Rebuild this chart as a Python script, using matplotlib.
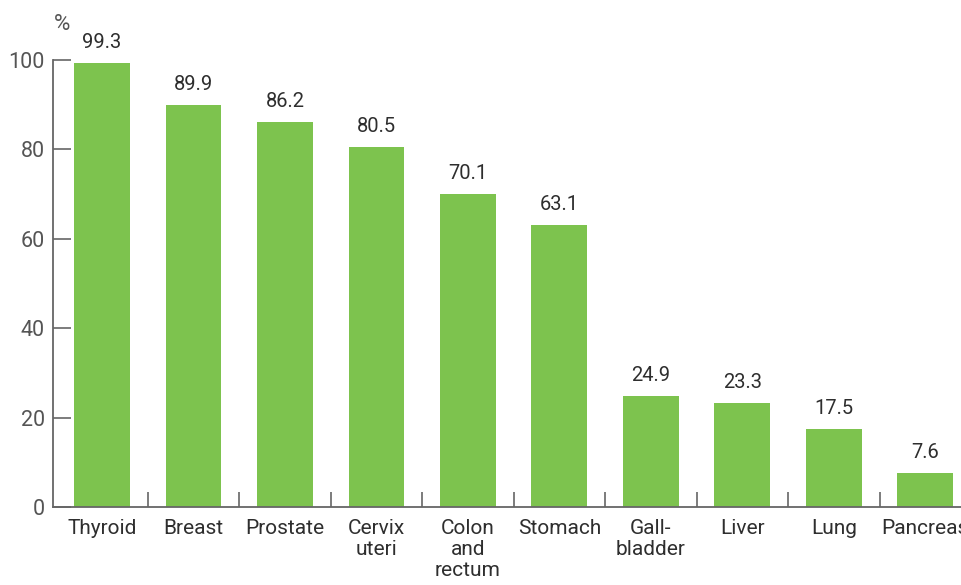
import matplotlib.pyplot as plt

# 5-year relative survival by cancer site
sites = ['Thyroid', 'Breast', 'Prostate', 'Cervix\nuteri', 'Colon\nand\nrectum',
         'Stomach', 'Gall-\nbladder', 'Liver', 'Lung', 'Pancreas']
survival = [99.3, 89.9, 86.2, 80.5, 70.1, 63.1, 24.9, 23.3, 17.5, 7.6]
yticks = [0, 20, 40, 60, 80, 100]

plt.rcParams['font.family'] = ['Roboto', 'DejaVu Sans']
text_color = '#2e2e2e'
axis_color = '#666666'
bar_color = '#7dc34e'

fig = plt.figure(figsize=(9.62, 5.85), dpi=100)
ax = fig.add_axes([53 / 962, 78 / 585, 918 / 962, 447 / 585])

x = list(range(len(sites)))
bars = ax.bar(x, survival, width=0.61, color=bar_color, zorder=2)

for xi, v in zip(x, survival):
    ax.annotate(f"{v}", (xi, v), xytext=(0, 8), textcoords='offset points',
                ha='center', va='bottom', fontsize=14.5, color=text_color)

ax.set_xlim(-0.536, 9.5)
ax.set_ylim(0, 100)

# y axis
ax.set_yticks(yticks)
ax.set_yticklabels([str(t) for t in yticks])
ax.tick_params(axis='y', direction='in', length=13, width=1.2, color=axis_color,
               labelsize=15.5, labelcolor='#555555', pad=6)

# x axis: category names as labels, ticks at boundaries
ax.set_xticks(x)
ax.set_xticklabels(sites, linespacing=1.12)
ax.tick_params(axis='x', length=0, labelsize=15, labelcolor=text_color, pad=9)
ax.set_xticks([i + 0.5 for i in x[:-1]], minor=True)
ax.tick_params(axis='x', which='minor', direction='in', length=11, width=1.2,
               color=axis_color)

for side in ['top', 'right']:
    ax.spines[side].set_visible(False)
for side in ['left', 'bottom']:
    ax.spines[side].set_color(axis_color)
    ax.spines[side].set_linewidth(1.3)

fig.text(62 / 962, 1 - 25 / 585, '%', ha='center', va='center',
         fontsize=16, color='#555555')

plt.savefig('out.png', dpi=100)
plt.close()
